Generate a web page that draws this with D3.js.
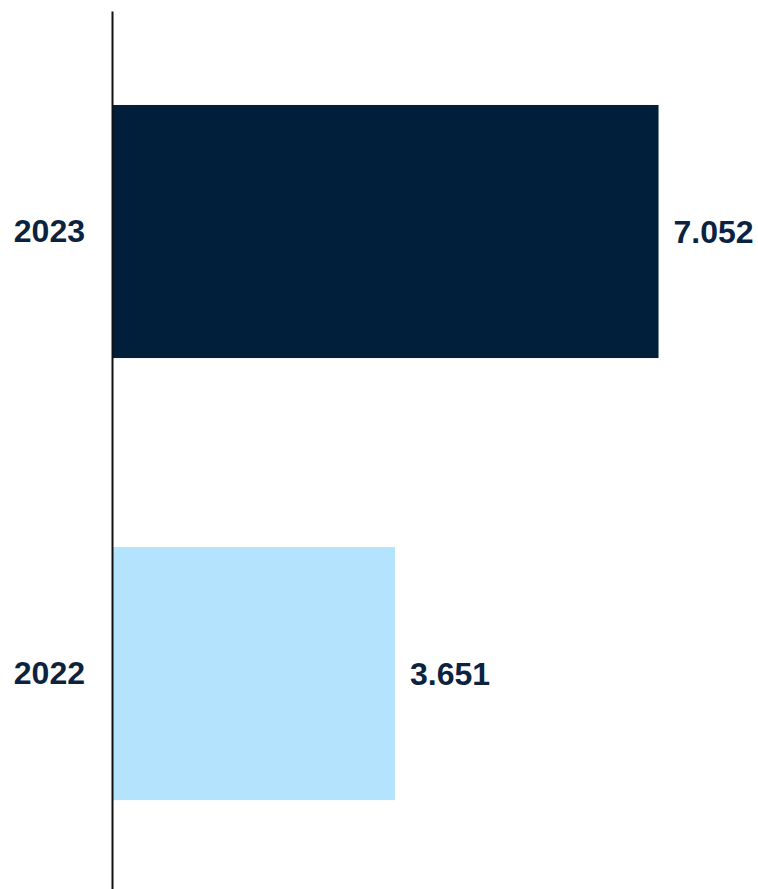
<!DOCTYPE html>
<html>
<head>
<meta charset="utf-8">
<script src="https://cdn.jsdelivr.net/npm/d3@7"></script>
<style>
  html, body { margin: 0; padding: 0; background: #ffffff; }
  svg { display: block; }
</style>
</head>
<body>
<svg id="chart" width="758" height="889"></svg>
<script>
// Yearly totals, top to bottom
const years = ["2023", "2022"];
const values = [7.052, 3.651];
const labels = ["7.052", "3.651"];
const barColors = ["#011e3b", "#b3e3fd"];

const svg = d3.select("#chart");
const textColor = "#0b2341";
const fontSize = 32;

const x = d3.scaleLinear().domain([0, 8]).range([112, 732]);
const y = d3.scaleBand()
  .domain(years)
  .range([11, 889])
  .paddingInner(0.4276)
  .paddingOuter(0.2068)
  .align(0.514);

// bars
svg.append("g")
  .selectAll("rect")
  .data(years)
  .join("rect")
  .attr("x", x(0))
  .attr("y", d => y(d))
  .attr("width", (d, i) => x(values[i]) - x(0))
  .attr("height", y.bandwidth())
  .attr("fill", (d, i) => barColors[i]);

// value labels at bar ends
svg.append("g")
  .selectAll("text")
  .data(years)
  .join("text")
  .attr("x", (d, i) => x(values[i]) + 15)
  .attr("y", d => y(d) + y.bandwidth() / 2)
  .attr("dy", "0.355em")
  .attr("fill", textColor)
  .attr("font-family", "Liberation Sans, Arial, sans-serif")
  .attr("font-weight", "bold")
  .attr("font-size", fontSize)
  .text((d, i) => labels[i]);

// category axis
const axis = svg.append("g")
  .attr("transform", `translate(${x(0)},0)`)
  .call(d3.axisLeft(y).tickSize(0).tickSizeOuter(0).tickPadding(27));
axis.select(".domain").attr("stroke", "#111").attr("stroke-width", 2);
axis.selectAll("text")
  .attr("fill", textColor)
  .attr("font-family", "Liberation Sans, Arial, sans-serif")
  .attr("font-weight", "bold")
  .attr("font-size", fontSize);
</script>
</body>
</html>
